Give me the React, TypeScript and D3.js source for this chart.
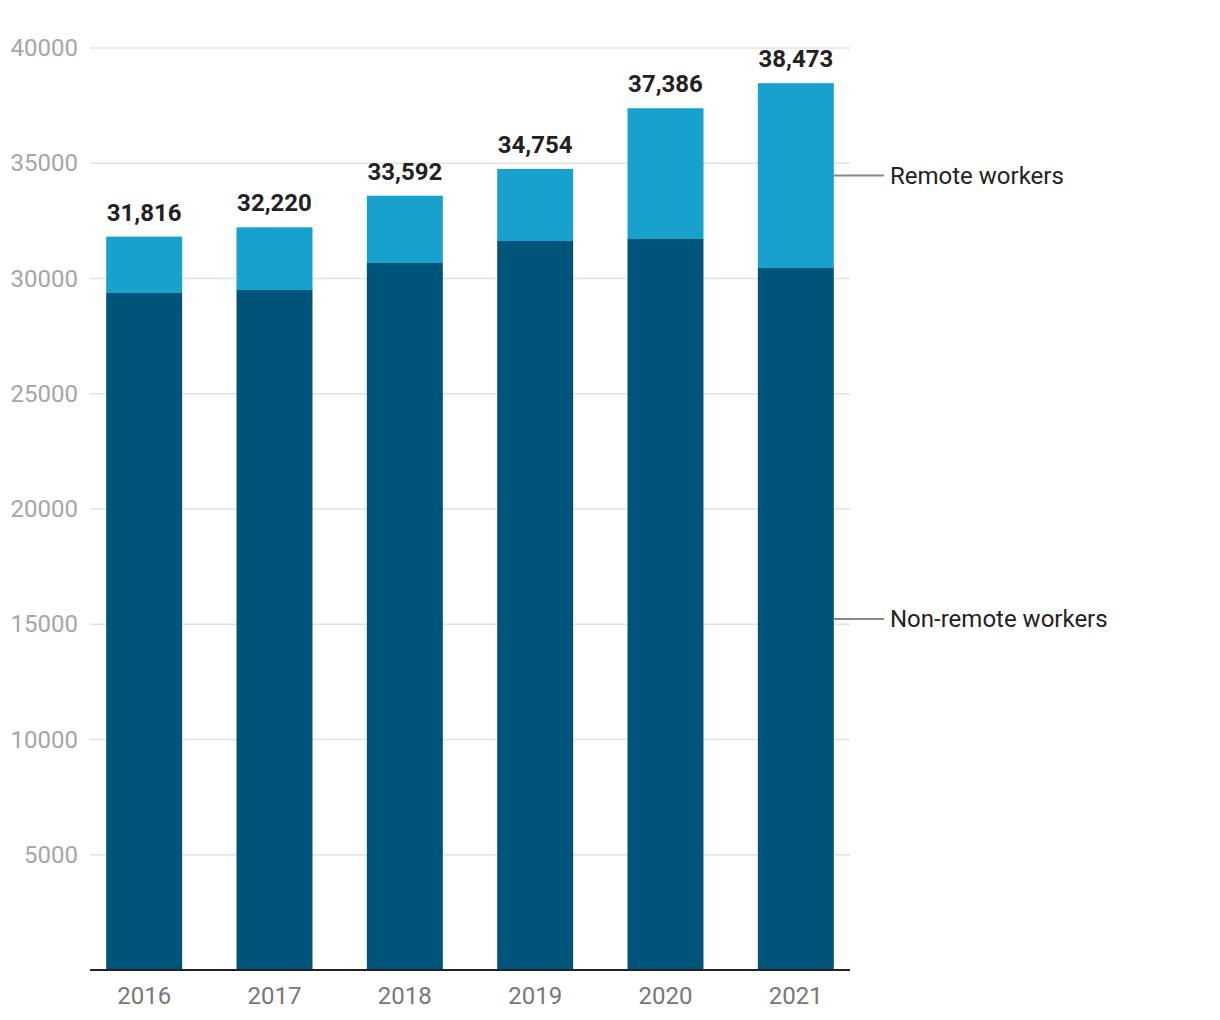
import React from "react";
import * as d3 from "d3";

const years = ["2016", "2017", "2018", "2019", "2020", "2021"];
const nonRemote = [29371, 29501, 30672, 31627, 31714, 30456];
const totals = [31816, 32220, 33592, 34754, 37386, 38473];
const remote = totals.map((t, i) => t - nonRemote[i]);
const yTicks = [5000, 10000, 15000, 20000, 25000, 30000, 35000, 40000];
const seriesNames = ["Non-remote workers", "Remote workers"];

const W = 1220;
const H = 1020;
const FONT = "Roboto, 'Noto Sans', sans-serif";

export default function App() {
  const y = d3.scaleLinear().domain([0, 40000]).range([970, 48]);
  const x = d3.scaleBand<string>().domain(years).range([79, 861]).paddingInner(0.417).paddingOuter(0.2085);
  const stackData = years.map((yr, i) => ({ year: yr, nonRemote: nonRemote[i], remote: remote[i] }));
  const stack = d3.stack<any>().keys(["nonRemote", "remote"])(stackData);
  const colors = ["#00547a", "#18a1cd"];
  const last = years.length - 1;
  const legendY = [
    (y(stack[0][last][0]) + y(stack[0][last][1])) / 2,
    (y(stack[1][last][0]) + y(stack[1][last][1])) / 2,
  ];
  const xEndBar = (x(years[last]) as number) + x.bandwidth();
  return (
    <svg width={W} height={H} style={{ position: "absolute", left: 0, top: 0, background: "#fff" }} fontFamily={FONT}>
      {yTicks.map((t) => (
        <g key={t}>
          <line x1={90} x2={850} y1={y(t)} y2={y(t)} stroke="#e2e2e2" strokeWidth={1.5} />
          <text x={78} y={y(t)} textAnchor="end" dominantBaseline="central" fontSize={24} fill="#a6a6a6">
            {t}
          </text>
        </g>
      ))}
      {stack.map((s, si) =>
        s.map((d, i) => (
          <rect
            key={si + "-" + i}
            x={x(years[i])}
            width={x.bandwidth()}
            y={y(d[1])}
            height={y(d[0]) - y(d[1])}
            fill={colors[si]}
          />
        ))
      )}
      <line x1={90} x2={850} y1={970} y2={970} stroke="#222" strokeWidth={2} />
      {years.map((yr, i) => (
        <g key={yr}>
          <text x={(x(yr) as number) + x.bandwidth() / 2} y={1004} textAnchor="middle" fontSize={24} fill="#777">
            {yr}
          </text>
          <text
            x={(x(yr) as number) + x.bandwidth() / 2}
            y={y(totals[i]) - 16}
            textAnchor="middle"
            fontSize={24}
            fontWeight="bold"
            fill="#222"
          >
            {d3.format(",")(totals[i])}
          </text>
        </g>
      ))}
      {seriesNames.map((n, i) => (
        <g key={n}>
          <line x1={xEndBar} x2={884} y1={legendY[i]} y2={legendY[i]} stroke="#888" strokeWidth={2} />
          <text x={890} y={legendY[i]} dominantBaseline="central" fontSize={24} fill="#222">
            {n}
          </text>
        </g>
      ))}
    </svg>
  );
}
